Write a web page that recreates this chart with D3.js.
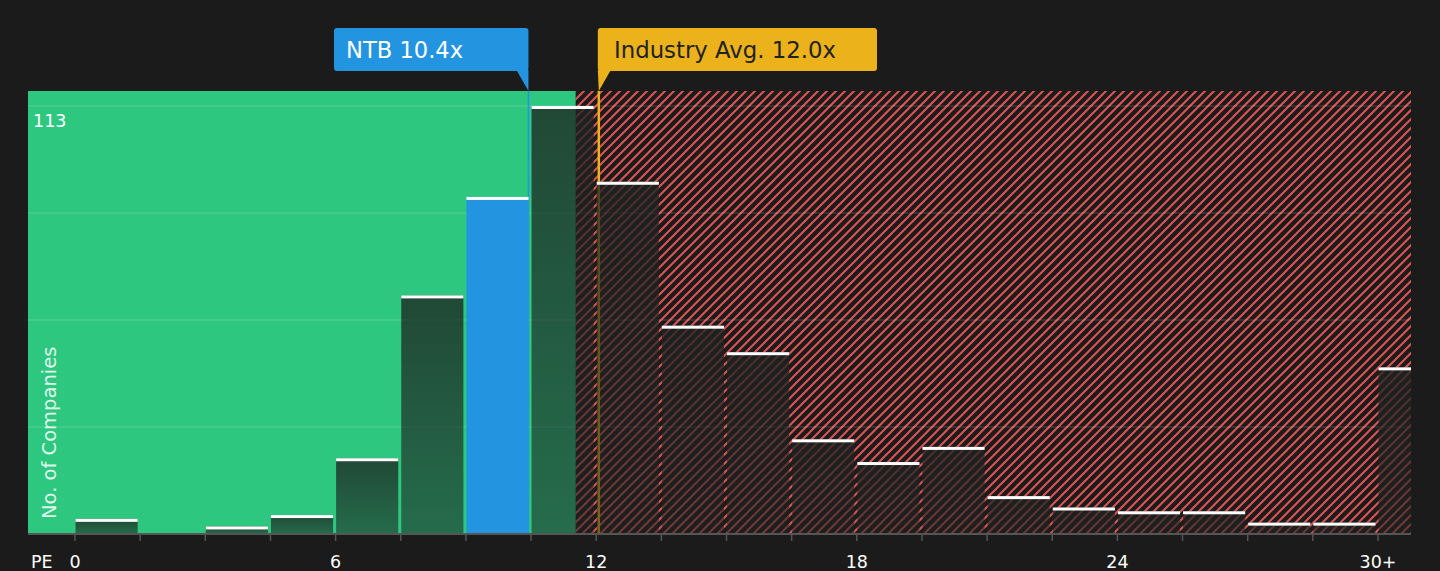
<!DOCTYPE html>
<html>
<head>
<meta charset="utf-8">
<script src="https://cdn.jsdelivr.net/npm/d3@7"></script>
<style>
    body { margin: 0; background: #1b1b1b; }
    svg { display: block; font-family: "DejaVu Sans", sans-serif; }
</style>
</head>
<body>
<div id="chart"></div>
<script>
// PE bins, 1.5x wide each, last one is "30+"
const binStarts = [0, 1.5, 3, 4.5, 6, 7.5, 9, 10.5, 12, 13.5, 15, 16.5, 18, 19.5, 21, 22.5, 24, 25.5, 27, 28.5, 30];
const companyCounts = [4, 0, 2, 5, 20, 63, 89, 113, 93, 55, 48, 25, 19, 23, 10, 7, 6, 6, 3, 3, 44];
const tickValues = [0, 6, 12, 18, 24, 30];
const tickLabels = ["0", "6", "12", "18", "24", "30+"];
const binWidth = 1.5;
const yMax = 113;

const companyPE = 10.44;
const companyLabel = "NTB 10.4x";
const industryPE = 12.06;
const industryLabel = "Industry Avg. 12.0x";
const fairLimit = 11.53; // end of the green zone

const width = 1440;
const height = 571;
const plot = { left: 28, right: 1411, top: 91, bottom: 534 };

const green = "#2ec780";
const blue = "#2394e0";
const gold = "#ebb21b";
const red = "#dd5454";

const x = d3.scaleLinear().domain([0, 30]).range([75, 1378]);
const y = d3.scaleLinear().domain([0, yMax]).range([plot.bottom, 106]);

const svg = d3.select("#chart").append("svg")
    .attr("width", width)
    .attr("height", height);

const defs = svg.append("defs");

// diagonal red hatching for the expensive side
const hatch = defs.append("pattern")
    .attr("id", "hatch")
    .attr("patternUnits", "userSpaceOnUse")
    .attr("width", 9)
    .attr("height", 9);
hatch.append("rect").attr("width", 9).attr("height", 9).attr("fill", "#1b1b1b");
hatch.append("path")
    .attr("d", "M0,9 L9,0 M-3,3 L3,-3 M6,12 L12,6")
    .attr("stroke", red)
    .attr("stroke-width", 2);

// bars are a dark overlay that fades a bit towards the bottom
const barGrad = defs.append("linearGradient")
    .attr("id", "barGrad")
    .attr("x1", 0).attr("y1", 0).attr("x2", 0).attr("y2", 1);
barGrad.append("stop").attr("offset", "0%").attr("stop-color", "#1d2220").attr("stop-opacity", 0.77);
barGrad.append("stop").attr("offset", "100%").attr("stop-color", "#1d2220").attr("stop-opacity", 0.55);

defs.append("clipPath").attr("id", "plotClip")
    .append("rect")
    .attr("x", plot.left).attr("y", plot.top)
    .attr("width", plot.right - plot.left)
    .attr("height", plot.bottom - plot.top);

const g = svg.append("g").attr("clip-path", "url(#plotClip)");

// zones
g.append("rect")
    .attr("x", plot.left).attr("y", plot.top)
    .attr("width", x(fairLimit) - plot.left)
    .attr("height", plot.bottom - plot.top)
    .attr("fill", green);
g.append("rect")
    .attr("x", x(fairLimit)).attr("y", plot.top)
    .attr("width", plot.right - x(fairLimit))
    .attr("height", plot.bottom - plot.top)
    .attr("fill", "url(#hatch)");

// grid lines
g.selectAll(".grid")
    .data([1, 2, 3, 4].map(k => yMax * k / 4))
    .join("line")
    .attr("x1", plot.left).attr("x2", plot.right)
    .attr("y1", d => y(d)).attr("y2", d => y(d))
    .attr("stroke", "#ffffff")
    .attr("stroke-opacity", 0.13)
    .attr("stroke-width", 1.5);

// marker lines (under the bars)
g.append("line")
    .attr("x1", x(companyPE)).attr("x2", x(companyPE))
    .attr("y1", plot.top).attr("y2", plot.bottom)
    .attr("stroke", blue).attr("stroke-width", 1.5);
g.append("line")
    .attr("x1", x(industryPE)).attr("x2", x(industryPE))
    .attr("y1", plot.top).attr("y2", plot.bottom)
    .attr("stroke", gold).attr("stroke-width", 2.5);

// bars
const bins = binStarts.map((s, i) => ({ start: s, count: companyCounts[i] }));
const isCompanyBin = d => companyPE >= d.start && companyPE < d.start + binWidth;
const barW = x(binWidth) - x(0) - 3;

g.selectAll(".bar")
    .data(bins.filter(d => d.count > 0))
    .join("rect")
    .attr("x", d => x(d.start) + 0.5)
    .attr("y", d => y(d.count))
    .attr("width", barW)
    .attr("height", d => y(0) - y(d.count))
    .attr("fill", d => isCompanyBin(d) ? blue : "url(#barGrad)");

// white cap on every bar
g.selectAll(".barTop")
    .data(bins.filter(d => d.count > 0))
    .join("rect")
    .attr("x", d => x(d.start) + 0.5)
    .attr("y", d => y(d.count))
    .attr("width", barW)
    .attr("height", 3)
    .attr("fill", "#ffffff");

// x axis
svg.append("line")
    .attr("x1", plot.left).attr("x2", plot.right)
    .attr("y1", plot.bottom).attr("y2", plot.bottom)
    .attr("stroke", "#555555").attr("stroke-width", 2);

svg.selectAll(".tick")
    .data(binStarts)
    .join("line")
    .attr("x1", d => x(d)).attr("x2", d => x(d))
    .attr("y1", plot.bottom).attr("y2", plot.bottom + 7)
    .attr("stroke", "#555555").attr("stroke-width", 1.5);

svg.selectAll(".tickLabel")
    .data(tickValues)
    .join("text")
    .attr("x", d => x(d))
    .attr("y", 568)
    .attr("text-anchor", "middle")
    .attr("font-size", 17.5)
    .attr("fill", "#ffffff")
    .text((d, i) => tickLabels[i]);

svg.append("text")
    .attr("x", 31).attr("y", 568)
    .attr("font-size", 17.5)
    .attr("fill", "#ffffff")
    .text("PE");

// y labels
svg.append("text")
    .attr("x", 33).attr("y", 127)
    .attr("font-size", 17.5)
    .attr("fill", "#ffffff")
    .text(yMax);

svg.append("text")
    .attr("transform", "translate(56,519) rotate(-90)")
    .attr("font-size", 19.5)
    .attr("fill", "#ffffff")
    .attr("fill-opacity", 0.85)
    .text("No. of Companies");

// callouts
const cx = x(companyPE);
svg.append("rect")
    .attr("x", 334).attr("y", 28)
    .attr("width", cx - 334).attr("height", 43)
    .attr("rx", 3)
    .attr("fill", blue);
svg.append("path")
    .attr("d", `M${cx - 12},70 L${cx},70 L${cx},${plot.top} Z`)
    .attr("fill", blue);
svg.append("text")
    .attr("x", 346).attr("y", 58)
    .attr("font-size", 22.6)
    .attr("fill", "#ffffff")
    .text(companyLabel);

const ix = x(industryPE);
svg.append("rect")
    .attr("x", ix - 1).attr("y", 28)
    .attr("width", 877 - ix + 1).attr("height", 43)
    .attr("rx", 3)
    .attr("fill", gold);
svg.append("path")
    .attr("d", `M${ix - 1},70 L${ix + 12},70 L${ix},${plot.top} Z`)
    .attr("fill", gold);
svg.append("text")
    .attr("x", 614).attr("y", 58)
    .attr("font-size", 22.8)
    .attr("fill", "#222222")
    .text(industryLabel);
</script>
</body>
</html>
